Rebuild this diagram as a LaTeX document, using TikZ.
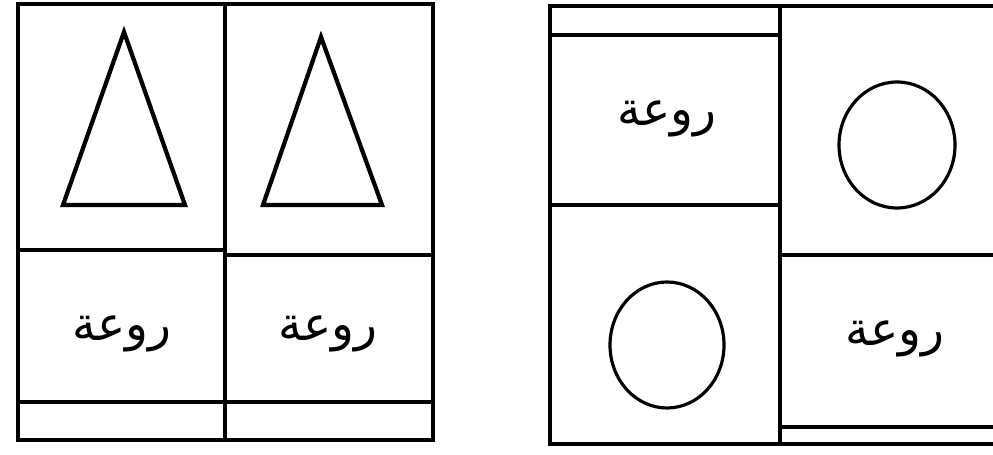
\documentclass[tikz,border=0pt]{standalone}
\usepackage{fontspec}
\TeXXeTstate=1
\newfontfamily\arabicfont[Script=Arabic]{DejaVu Sans}
\usetikzlibrary{positioning}

\begin{document}
\begin{tikzpicture}[
  x=0.02cm, y=-0.02cm,
  grid/.style={draw=black, line width=1.8pt},
  figline/.style={draw=black, line width=2.4pt, line join=miter},
  ring/.style={draw=black, line width=1.8pt},
  word/.style={font=\arabicfont\fontsize{27}{30}\selectfont, inner sep=0pt},
]
\clip (0,0) rectangle (993,455);

% ---- left card: two triangles over two words ----
\draw[grid] (18,4) rectangle (433,440);
\draw[grid] (225,4) -- (225,440);
\draw[grid] (18,250) -- (225,250);
\draw[grid] (225,255) -- (433,255);
\draw[grid] (18,402) -- (433,402);

\draw[figline] (124,32) -- (185,205) -- (63,205) -- cycle;
\draw[figline] (321,37) -- (382,205) -- (263,205) -- cycle;

\node[word] (wordA) at (122,334) {\beginR روعة\endR};
\node[word] (wordB) at (328,334) {\beginR روعة\endR};

% ---- right card: words and circles crosswise ----
\draw[grid] (550,6) rectangle (1000,444);
\draw[grid] (780,6) -- (780,444);
\draw[grid] (550,35) -- (780,35);
\draw[grid] (550,205) -- (780,205);
\draw[grid] (780,255) -- (1000,255);
\draw[grid] (780,427) -- (1000,427);

\draw[ring] (897,145) ellipse (58 and 63);
\draw[ring] (667,345) ellipse (57 and 63);

\node[word] (wordC) at (667,119) {\beginR روعة\endR};
\node[word] (wordD) at (895,339) {\beginR روعة\endR};
\end{tikzpicture}
\end{document}
